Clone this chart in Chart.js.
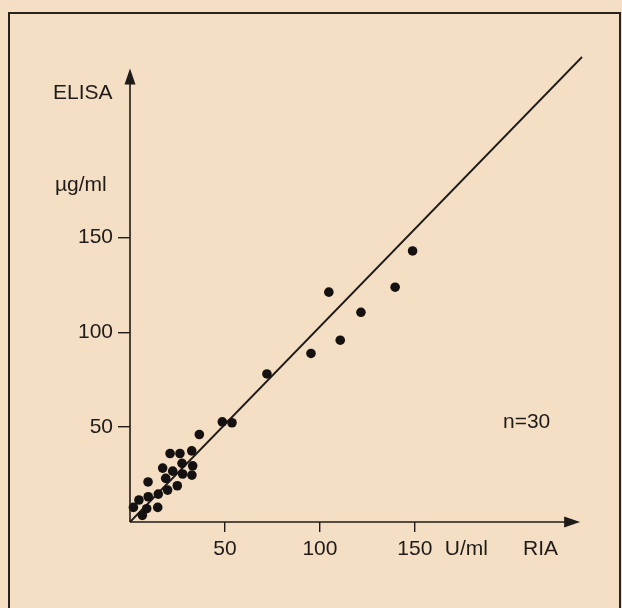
<!DOCTYPE html>
<html lang="en">
<head>
    <meta charset="UTF-8">
    <title>ELISA vs RIA</title>
    <style>
        html, body {
            margin: 0;
            padding: 0;
            background: #f4dfc5;
        }

        #wrap {
            position: relative;
            width: 622px;
            height: 608px;
            overflow: hidden;
        }

        #frame {
            position: absolute;
            left: 8px;
            top: 12px;
            width: 609px;
            height: 640px;
            border: 2px solid #262220;
        }

        canvas {
            position: absolute;
            left: 0;
            top: 0;
        }
    </style>
</head>
<body>
    <div id="wrap">
        <div id="frame"></div>
        <canvas id="chart" width="622" height="608"></canvas>
    </div>

    <script src="https://cdn.jsdelivr.net/npm/chart.js@4.4.0/dist/chart.umd.min.js"></script>

    <script>
        // RIA (U/ml) vs ELISA (ug/ml), n = 30
        const ria   = [148.8, 104.7, 139.6, 121.6, 110.7, 95.3, 72.1, 53.7, 48.6, 36.5,
                       21.1, 26.3, 32.5, 27.4, 33.0, 17.2, 22.5, 27.7, 32.6, 18.8,
                       9.5, 24.9, 19.8, 14.9, 9.6, 4.7, 1.8, 8.8, 14.6, 6.5];
        const elisa = [142.8, 121.1, 123.7, 110.5, 95.8, 88.8, 78.0, 52.3, 52.8, 46.1,
                       36.1, 36.1, 37.5, 30.9, 29.6, 28.4, 26.8, 25.3, 24.7, 23.0,
                       21.1, 19.1, 16.8, 14.7, 13.3, 11.6, 7.7, 7.0, 7.7, 3.5];

        // regression line end points
        const fitX = [0, 238];
        const fitY = [0, 245];

        const xTicks = [50, 100, 150];
        const yTicks = [50, 100, 150];

        const ink = '#1f1b19';
        const font = { family: '"Liberation Sans", Arial, sans-serif', size: 21 };

        const arrowsAndText = {
            id: 'arrowsAndText',
            afterDraw(chart) {
                const { ctx, scales: { x, y } } = chart;
                const x0 = x.getPixelForValue(0);
                const y0 = y.getPixelForValue(0);
                const xEnd = x.getPixelForValue(237);
                const yEnd = y.getPixelForValue(239);

                ctx.save();
                ctx.strokeStyle = ink;
                ctx.fillStyle = ink;
                ctx.lineWidth = 1.6;

                // axes
                ctx.beginPath();
                ctx.moveTo(x0, y0);
                ctx.lineTo(xEnd - 10, y0);
                ctx.moveTo(x0, y0);
                ctx.lineTo(x0, yEnd + 10);
                ctx.stroke();

                // arrow heads
                ctx.beginPath();
                ctx.moveTo(xEnd, y0);
                ctx.lineTo(xEnd - 16, y0 - 5.5);
                ctx.lineTo(xEnd - 16, y0 + 5.5);
                ctx.closePath();
                ctx.fill();

                ctx.beginPath();
                ctx.moveTo(x0, yEnd);
                ctx.lineTo(x0 - 5.5, yEnd + 16);
                ctx.lineTo(x0 + 5.5, yEnd + 16);
                ctx.closePath();
                ctx.fill();

                // labels
                ctx.font = font.size + 'px ' + font.family;
                ctx.textBaseline = 'middle';
                ctx.textAlign = 'left';
                ctx.fillText('ELISA', 53, 93);
                ctx.fillText('\u00b5g/ml', 55, 185);
                ctx.fillText('U/ml', x.getPixelForValue(150) + 30, 549);
                ctx.fillText('RIA', 523, 549);
                ctx.fillText('n=30', 503, 422);
                ctx.restore();
            }
        };

        const chart = new Chart(document.getElementById('chart'), {
            type: 'scatter',
            data: {
                datasets: [
                    {
                        label: 'samples',
                        data: ria.map((v, i) => ({ x: v, y: elisa[i] })),
                        backgroundColor: '#141110',
                        borderWidth: 0,
                        pointRadius: 4.8,
                        clip: false
                    },
                    {
                        type: 'line',
                        label: 'fit',
                        data: fitX.map((v, i) => ({ x: v, y: fitY[i] })),
                        borderColor: ink,
                        borderWidth: 1.8,
                        pointRadius: 0,
                        clip: false
                    }
                ]
            },
            options: {
                responsive: false,
                animation: false,
                layout: {
                    padding: { left: 0, top: 57, right: 40, bottom: 0 }
                },
                plugins: {
                    legend: { display: false },
                    tooltip: { enabled: false }
                },
                scales: {
                    x: {
                        type: 'linear',
                        min: 0,
                        max: 238,
                        afterFit: s => { s.height = 86; },
                        afterBuildTicks: s => { s.ticks = xTicks.map(v => ({ value: v })); },
                        border: { display: false },
                        grid: {
                            drawOnChartArea: false,
                            drawTicks: true,
                            tickLength: 10,
                            color: ink,
                            lineWidth: 1.4
                        },
                        ticks: {
                            color: ink,
                            font: font,
                            padding: 5,
                            maxRotation: 0
                        }
                    },
                    y: {
                        type: 'linear',
                        min: 0,
                        max: 245,
                        afterFit: s => { s.width = 130; },
                        afterBuildTicks: s => { s.ticks = yTicks.map(v => ({ value: v })); },
                        border: { display: false },
                        grid: {
                            drawOnChartArea: false,
                            drawTicks: true,
                            tickLength: 12,
                            color: ink,
                            lineWidth: 1.4
                        },
                        ticks: {
                            color: ink,
                            font: font,
                            padding: 5
                        }
                    }
                }
            },
            plugins: [arrowsAndText]
        });
    </script>
</body>
</html>
